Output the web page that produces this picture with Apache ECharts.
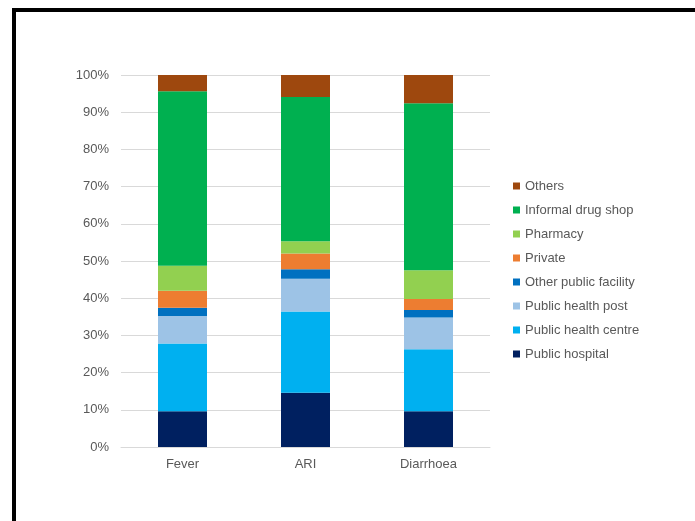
<!DOCTYPE html>
<html>
<head>
<meta charset="utf-8">
<script src="https://cdn.jsdelivr.net/npm/echarts@6/dist/echarts.min.js"></script>
<style>
  html, body { margin: 0; padding: 0; background: #fff; }
  #frame {
    position: absolute; left: 12px; top: 8px; width: 700px; height: 530px;
    border-top: 4px solid #000; border-left: 4px solid #000;
  }
  #chart { position: absolute; left: 0; top: 0; width: 695px; height: 521px; }
</style>
</head>
<body>
<div id="chart"></div>
<div id="frame"></div>
<script>
const categories = ['Fever', 'ARI', 'Diarrhoea'];

// shares (%) per care source, bottom to top of each bar
const publicHospital = [9.6, 14.6, 9.6];
const publicHealthCentre = [18.2, 21.8, 16.7];
const publicHealthPost = [7.4, 8.8, 8.5];
const otherPublicFacility = [2.2, 2.6, 2.0];
const privateCare = [4.6, 4.2, 3.0];
const pharmacy = [6.7, 3.3, 7.7];
const informalDrugShop = [46.9, 38.8, 44.9];
const others = [4.4, 5.9, 7.6];

const yTicks = [0, 10, 20, 30, 40, 50, 60, 70, 80, 90, 100];

const seriesDefs = [
  { name: 'Public hospital', data: publicHospital, color: '#002060' },
  { name: 'Public health centre', data: publicHealthCentre, color: '#00B0F0' },
  { name: 'Public health post', data: publicHealthPost, color: '#9DC3E6' },
  { name: 'Other public facility', data: otherPublicFacility, color: '#0070C0' },
  { name: 'Private', data: privateCare, color: '#ED7D31' },
  { name: 'Pharmacy', data: pharmacy, color: '#92D050' },
  { name: 'Informal drug shop', data: informalDrugShop, color: '#00B050' },
  { name: 'Others', data: others, color: '#9E480E' },
];

const textColor = '#595959';
const font = 'Liberation Sans, Arial, sans-serif';

const chart = echarts.init(document.getElementById('chart'));
chart.setOption({
  animation: false,
  grid: { left: 121, right: 205, top: 75, bottom: 74 },
  legend: {
    orient: 'vertical',
    left: 508,
    top: 174,
    itemWidth: 7,
    itemHeight: 7,
    itemGap: 10,
    icon: 'rect',
    data: seriesDefs.map(s => s.name).reverse(),
    textStyle: { color: textColor, fontSize: 13, fontFamily: font, lineHeight: 14 },
  },
  xAxis: {
    type: 'category',
    data: categories,
    axisTick: { show: false },
    axisLine: { lineStyle: { color: '#D9D9D9' } },
    axisLabel: { color: textColor, fontSize: 13, fontFamily: font, margin: 11 },
  },
  yAxis: {
    type: 'value',
    min: yTicks[0],
    max: yTicks[yTicks.length - 1],
    interval: 10,
    axisLine: { show: false },
    axisTick: { show: false },
    splitLine: { lineStyle: { color: '#D9D9D9' } },
    axisLabel: { color: textColor, fontSize: 13, fontFamily: font, margin: 12, formatter: '{value}%' },
  },
  series: seriesDefs.map(s => ({
    name: s.name,
    type: 'bar',
    stack: 'total',
    barWidth: 49,
    data: s.data,
    itemStyle: { color: s.color },
  })),
});
</script>
</body>
</html>
